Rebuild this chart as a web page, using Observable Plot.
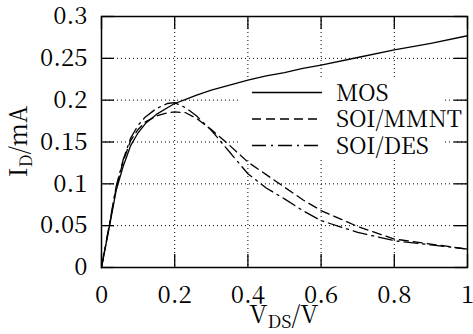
<!DOCTYPE html>
<html><head><meta charset="utf-8">
<script src="https://cdn.jsdelivr.net/npm/d3@7"></script>
<script src="https://cdn.jsdelivr.net/npm/@observablehq/plot@0.6"></script>
<style>body{margin:0;background:#fff} svg{display:block} svg text{font-family:"Noto Serif CJK SC",serif !important}</style>
</head><body><div id="chart"></div>
<script>
// ---- data ----
const vds    = [0, 0.02, 0.04, 0.06, 0.08, 0.1, 0.12, 0.15, 0.18, 0.2, 0.23, 0.26, 0.3, 0.35, 0.4, 0.45, 0.5, 0.55, 0.6, 0.7, 0.8, 0.9, 1];
const idMOS  = [0, 0.045, 0.092, 0.122, 0.146, 0.161, 0.172, 0.183, 0.191, 0.196, 0.201, 0.206, 0.212, 0.218, 0.224, 0.229, 0.233, 0.238, 0.242, 0.251, 0.260, 0.268, 0.277];
const idMMNT = [0, 0.047, 0.095, 0.128, 0.152, 0.165, 0.174, 0.181, 0.185, 0.186, 0.185, 0.178, 0.165, 0.146, 0.126, 0.111, 0.096, 0.081, 0.068, 0.049, 0.034, 0.028, 0.022];
const idDES  = [0, 0.048, 0.097, 0.130, 0.155, 0.170, 0.180, 0.190, 0.196, 0.197, 0.191, 0.181, 0.164, 0.138, 0.112, 0.095, 0.082, 0.068, 0.056, 0.042, 0.032, 0.027, 0.022];
const seriesNames = ["MOS", "SOI/MMNT", "SOI/DES"];
const xTicks = [0, 0.2, 0.4, 0.6, 0.8, 1];
const xTickLabels = ["0", "0.2", "0.4", "0.6", "0.8", "1"];
const yTicks = [0, 0.05, 0.1, 0.15, 0.2, 0.25, 0.3];
const yTickLabels = ["0", "0.05", "0.1", "0.15", "0.2", "0.25", "0.3"];

// ---- layout / style ----
const W = 473, H = 334, mL = 101, mR = 6, mT = 16, mB = 67;
const innerH = H - mT - mB, innerW = W - mL - mR;
const tickLen = 13;
const dashes = {"MOS": "none", "SOI/MMNT": "9,5", "SOI/DES": "14,5,2,5"};
const seriesData = [idMOS, idMMNT, idDES];
const font = '"Noto Serif CJK SC",serif';

const rows = [];
seriesNames.forEach((s, k) => vds.forEach((v, i) => rows.push({series: s, v, id: seriesData[k][i]})));

const gridStyle = {stroke: "#000", strokeOpacity: 1, strokeWidth: 1, strokeDasharray: "1,3"};

const plot = Plot.plot({
  width: W, height: H,
  marginLeft: mL, marginRight: mR, marginTop: mT, marginBottom: mB,
  style: {fontFamily: font, fontSize: "24px", color: "#000", background: "#fff"},
  x: {domain: [0, 1]},
  y: {domain: [0, 0.3]},
  marks: [
    Plot.gridX(xTicks.slice(1, -1), gridStyle),
    Plot.gridY(yTicks.slice(1, -1), gridStyle),
    ...seriesNames.map(s => Plot.line(rows.filter(d => d.series === s), {
      x: "v", y: "id", stroke: "#000", strokeWidth: 1.3, strokeDasharray: dashes[s]
    })),
    Plot.tickX(xTicks, {x: d => d, insetTop: innerH - tickLen, stroke: "#000", strokeWidth: 1.3}),
    Plot.tickX(xTicks, {x: d => d, insetBottom: innerH - tickLen, stroke: "#000", strokeWidth: 1.3}),
    Plot.tickY(yTicks, {y: d => d, insetRight: innerW - tickLen, stroke: "#000", strokeWidth: 1.3}),
    Plot.tickY(yTicks, {y: d => d, insetLeft: innerW - tickLen, stroke: "#000", strokeWidth: 1.3}),
    Plot.frame({stroke: "#000", strokeWidth: 1.5}),
    Plot.axisX(xTicks, {tickSize: 0, tickPadding: 18, fontSize: 24, label: null,
      tickFormat: d => xTickLabels[xTicks.indexOf(d)]}),
    Plot.axisY(yTicks, {tickSize: 0, tickPadding: 14, fontSize: 24, label: null,
      tickFormat: d => yTickLabels[yTicks.indexOf(d)]})
  ]
});
document.getElementById("chart").appendChild(plot);

const svg = d3.select(plot);

// opaque key background covering the grid
const yg = plot.querySelector('[aria-label="y-grid"]');
const bg = document.createElementNS("http://www.w3.org/2000/svg", "rect");
bg.setAttribute("x", 238); bg.setAttribute("y", 80);
bg.setAttribute("width", 204); bg.setAttribute("height", 80);
bg.setAttribute("fill", "#fff");
yg.after(bg);

// key
const key = svg.append("g").attr("font-family", font).attr("text-anchor", "start");
const rowY = [92.5, 119, 145.5];
seriesNames.forEach((s, i) => {
  key.append("line").attr("x1", 252).attr("x2", 322).attr("y1", rowY[i]).attr("y2", rowY[i])
    .attr("stroke", "#000").attr("stroke-width", 1.3).attr("stroke-dasharray", dashes[s]);
  key.append("text").attr("x", 336).attr("y", rowY[i] + 8).attr("fill", "#000")
    .attr("text-anchor", "start").style("font-size", "23px").text(s);
});

// axis titles with subscripts
const xt = svg.append("text").attr("x", mL + innerW / 2).attr("y", 323)
  .attr("text-anchor", "middle").attr("font-family", font).style("font-size", "25px").attr("fill", "#000");
xt.append("tspan").text("V");
xt.append("tspan").style("font-size", "18px").attr("dy", 5).text("DS");
xt.append("tspan").attr("dy", -5).text("/V");

const yt = svg.append("text").attr("transform", `translate(27,${mT + innerH / 2}) rotate(-90)`)
  .attr("text-anchor", "middle").attr("font-family", font).style("font-size", "24px").attr("fill", "#000");
yt.append("tspan").text("I");
yt.append("tspan").style("font-size", "17px").attr("dy", 5).text("D");
yt.append("tspan").attr("dy", -5).text("/mA");
</script>
</body></html>
